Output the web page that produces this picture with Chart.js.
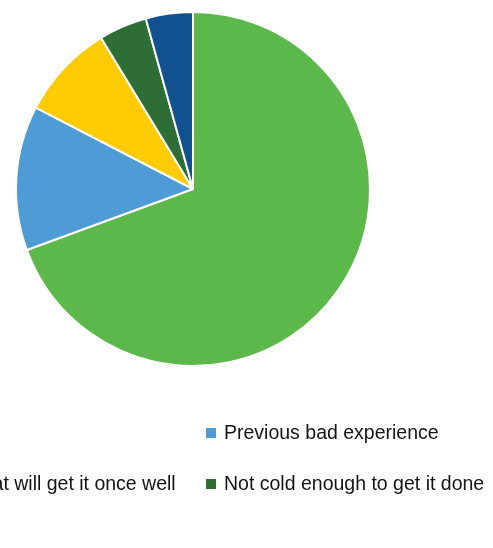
<!DOCTYPE html>
<html>
<head>
<meta charset="utf-8">
<script src="https://cdn.jsdelivr.net/npm/chart.js@4/dist/chart.umd.min.js"></script>
<style>
  html, body { margin: 0; padding: 0; background: #fff; overflow: hidden; }
  #wrap { position: relative; width: 493px; height: 548px; }
</style>
</head>
<body>
<div id="wrap"><canvas id="pie"></canvas></div>
<script>
// reasons (percent of slices)
const labels = [
  'Not necessary',
  'Previous bad experience',
  "Didn't think that will get it once well",
  'Not cold enough to get it done',
  'Other'
];
const values = [69.4, 13.2, 8.7, 4.4, 4.3];
const colors = ['#5CB84B', '#4F9BD6', '#FFCB05', '#2F6D36', '#11518F'];

// legend drawn in two columns below the pie, like the original figure (left column runs off the edge)
const legendColumns = [-143, 206];
const legendRows = [433, 484, 535];

const columnLegend = {
  id: 'columnLegend',
  afterDraw(c) {
    const ctx = c.ctx;
    const ds = c.data.datasets[0];
    ctx.save();
    ctx.font = '19.5px "Liberation Sans", Arial, sans-serif';
    ctx.textBaseline = 'middle';
    ctx.textAlign = 'left';
    c.data.labels.forEach(function(lbl, i) {
      const x = legendColumns[i % 2];
      const y = legendRows[Math.floor(i / 2)];
      ctx.fillStyle = ds.backgroundColor[i];
      ctx.fillRect(x, y - 5, 10, 10);
      ctx.fillStyle = '#141414';
      ctx.fillText(lbl, x + 18, y + 1);
    });
    ctx.restore();
  }
};

const ctx = document.getElementById('pie').getContext('2d');
const chart = new Chart(ctx, {
  type: 'pie',
  data: {
    labels: labels,
    datasets: [{
      data: values,
      backgroundColor: colors,
      borderColor: '#ffffff',
      borderWidth: 2
    }]
  },
  options: {
    responsive: true,
    maintainAspectRatio: false,
    animation: false,
    layout: { padding: { left: 14, right: 121, top: 11, bottom: 181 } },
    plugins: {
      legend: { display: false },
      tooltip: { enabled: false }
    }
  },
  plugins: [columnLegend]
});
</script>
</body>
</html>
